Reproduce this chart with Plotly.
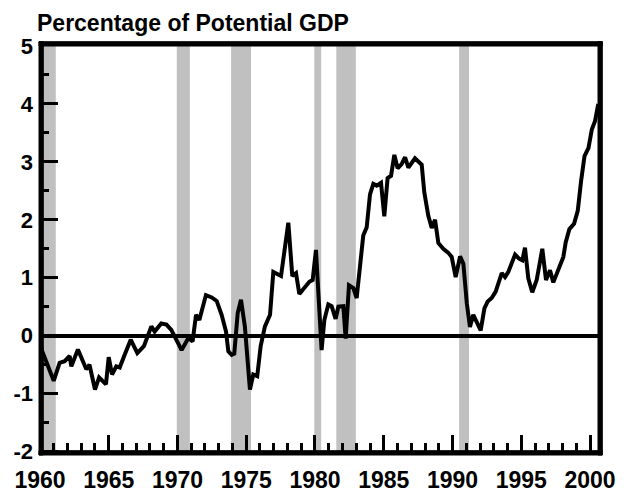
import plotly.graph_objects as go

# Line series: date (years) and value (% of potential GDP)
years = [1960.0, 1961.0, 1961.43, 1961.8, 1962.16, 1962.28, 1962.76, 1963.13, 1963.37, 1963.6,
         1964.0, 1964.3, 1964.8, 1965.0, 1965.24, 1965.55, 1965.8, 1966.16, 1966.6, 1967.08,
         1967.56, 1968.1, 1968.34, 1968.82, 1969.2, 1969.55, 1969.8, 1970.3, 1970.79, 1971.1,
         1971.35, 1971.59, 1972.07, 1972.49, 1972.85, 1973.21, 1973.53, 1973.7, 1973.94, 1974.13,
         1974.38, 1974.62, 1974.9, 1975.27, 1975.51, 1975.8, 1976.05, 1976.36, 1976.73, 1976.97,
         1977.53, 1977.82, 1978.06, 1978.35, 1978.62, 1978.86, 1979.22, 1979.59, 1979.83, 1980.07,
         1980.48, 1980.68, 1980.97, 1981.21, 1981.5, 1981.7, 1982.06, 1982.23, 1982.47, 1982.79,
         1983.03, 1983.27, 1983.51, 1983.76, 1984.0, 1984.24, 1984.49, 1984.8, 1985.04, 1985.28,
         1985.53, 1985.77, 1986.01, 1986.3, 1986.55, 1986.79, 1987.27, 1987.76, 1987.95, 1988.24,
         1988.49, 1988.73, 1988.97, 1989.33, 1989.7, 1989.94, 1990.23, 1990.55, 1990.79, 1991.04,
         1991.27, 1991.51, 1991.76, 1992.05, 1992.32, 1992.56, 1992.85, 1993.14, 1993.33, 1993.58,
         1993.82, 1994.06, 1994.55, 1994.84, 1995.08, 1995.27, 1995.51, 1995.8, 1996.12, 1996.53,
         1996.8, 1997.09, 1997.33, 1997.65, 1998.06, 1998.23, 1998.5, 1998.84, 1999.11, 1999.35,
         1999.6, 1999.89, 2000.13, 2000.36, 2000.6]
gap = [-0.17, -0.78, -0.47, -0.44, -0.35, -0.53, -0.24, -0.44, -0.58, -0.50,
       -0.93, -0.72, -0.84, -0.37, -0.67, -0.53, -0.55, -0.33, -0.07, -0.30,
       -0.18, 0.16, 0.07, 0.21, 0.19, 0.10, -0.03, -0.25, -0.04, -0.10,
       0.36, 0.27, 0.70, 0.66, 0.60, 0.36, 0.07, -0.27, -0.33, -0.31,
       0.39, 0.62, 0.16, -0.93, -0.67, -0.70, -0.18, 0.16, 0.36, 1.10,
       1.03, 1.50, 1.95, 1.03, 1.08, 0.72, 0.83, 0.93, 0.96, 1.48,
       -0.25, 0.27, 0.54, 0.51, 0.29, 0.50, 0.51, -0.05, 0.87, 0.82,
       0.65, 1.24, 1.73, 1.87, 2.44, 2.62, 2.59, 2.64, 2.06, 2.72,
       2.76, 3.12, 2.89, 2.96, 3.08, 2.90, 3.06, 2.95, 2.47, 2.07,
       1.86, 2.00, 1.60, 1.50, 1.43, 1.36, 1.01, 1.37, 1.24, 0.56,
       0.15, 0.36, 0.22, 0.09, 0.47, 0.59, 0.65, 0.76, 0.90, 1.08,
       1.01, 1.10, 1.40, 1.33, 1.30, 1.52, 0.99, 0.75, 0.96, 1.50,
       0.96, 1.13, 0.92, 1.10, 1.36, 1.61, 1.84, 1.93, 2.16, 2.67,
       3.10, 3.24, 3.56, 3.70, 4.00]

# Recession periods (shaded)
recession_start = [1960.15, 1969.95, 1973.9, 1979.95, 1981.55, 1990.48]
recession_end = [1961.15, 1970.9, 1975.35, 1980.45, 1982.97, 1991.2]

# Tick labels
x_tick_vals = [1960, 1965, 1970, 1975, 1980, 1985, 1990, 1995, 2000]
x_tick_text = ["1960", "1965", "1970", "1975", "1980", "1985", "1990", "1995", "2000"]
y_tick_vals = [-2, -1, 0, 1, 2, 3, 4, 5]
y_tick_text = ["-2", "-1", "0", "1", "2", "3", "4", "5"]

title_text = "Percentage of Potential GDP"
FONT = "Liberation Sans, Arial, sans-serif"

# page body has an 8px default margin, so the figure is sized to fit the window
W, H = 624, 485
ML, MR, MT, MB = 31, 34, 38, 38
PW, PH = W - ML - MR, H - MT - MB
LW = 4.3  # frame thickness in px

fig = go.Figure()
fig.add_trace(go.Scatter(x=years, y=gap, mode="lines",
                         line=dict(color="black", width=4), hoverinfo="skip",
                         showlegend=False))

for s, e in zip(recession_start, recession_end):
    fig.add_shape(type="rect", xref="x", yref="paper", x0=s, x1=e, y0=0, y1=1,
                  fillcolor="#C0C0C0", line=dict(width=0), layer="below")

# plot frame drawn as filled bars (left/bottom inside, top/right outside the plot area)
fx, fy = LW / PW, LW / PH
frame = [(0, fx, 0, 1 + fy),           # left
         (1, 1 + fx, 0, 1 + fy),       # right
         (0, 1 + fx, 1, 1 + fy),       # top
         (0, 1 + fx, 0, fy)]           # bottom
for x0, x1, y0, y1 in frame:
    fig.add_shape(type="rect", xref="paper", yref="paper", x0=x0, x1=x1, y0=y0, y1=y1,
                  fillcolor="black", line=dict(color="black", width=1), layer="above")

fig.update_layout(
    template="none",
    width=W, height=H,
    margin=dict(l=ML, r=MR, t=MT, b=MB, pad=0, autoexpand=False),
    paper_bgcolor="white", plot_bgcolor="white",
    title=dict(text=title_text, x=29 / W, xref="container", xanchor="left",
               y=1 - 15 / H, yref="container", yanchor="middle",
               font=dict(family=FONT, size=23, color="black", weight="bold")),
)

fig.update_xaxes(
    automargin=False,
    range=[1959.93, 2000.58], showgrid=False, zeroline=False, showline=False,
    tickmode="array", tickvals=x_tick_vals, ticktext=x_tick_text,
    ticks="inside", ticklen=20, tickwidth=3.3, tickcolor="black",
    minor=dict(ticks="inside", dtick=1, tick0=1960, ticklen=12, tickwidth=3.3, tickcolor="black",
               showgrid=False),
    tickfont=dict(family=FONT, size=23, color="black", weight="bold"),
    ticklabelstandoff=9,
)
fig.update_yaxes(
    automargin=False,
    range=[-2.06, 5], showgrid=False, showline=False,
    zeroline=True, zerolinecolor="black", zerolinewidth=4,
    tickmode="array", tickvals=y_tick_vals, ticktext=y_tick_text,
    ticks="inside", ticklen=19, tickwidth=3.3, tickcolor="black",
    minor=dict(ticks="inside", dtick=0.5, tick0=0, ticklen=10, tickwidth=3.3, tickcolor="black",
               showgrid=False),
    tickfont=dict(family=FONT, size=22, color="black", weight="bold"),
    ticklabelstandoff=5,
)

fig.write_html("out.html")
